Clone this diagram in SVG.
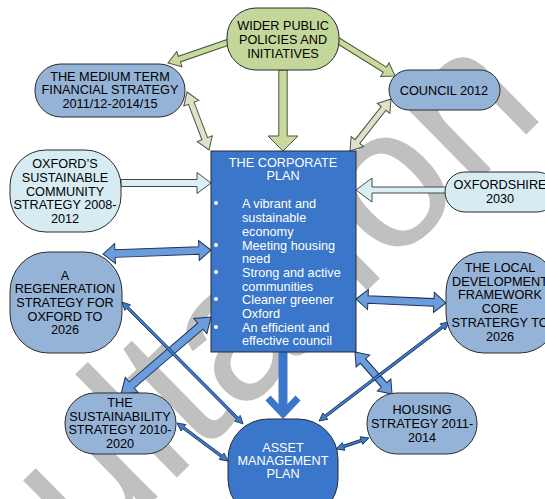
<svg xmlns="http://www.w3.org/2000/svg" width="545" height="499" viewBox="0 0 545 499">
<style>
text{font-family:"Liberation Sans",Arial,sans-serif;font-size:12.7px;fill:#000;text-anchor:middle}
.w{fill:#fff}
.l{text-anchor:start}
.node{stroke:#2b2b2b;stroke-width:1}
.bg{fill:#95b3d7}
.cy{fill:#d6ebf2}
.gr{fill:#c4d79b}
.bl{fill:#3a76c9}
.ag{fill:#c9da9f;stroke:#4d5a3a;stroke-width:1}
.ap{fill:#dce3c9;stroke:#4d5444;stroke-width:1}
.ac{fill:#daeef3;stroke:#3f4a4e;stroke-width:1}
.ab{fill:#6b9cdb;stroke:#1e3558;stroke-width:1}
.at{fill:#3e7bcc;stroke:#132c4e;stroke-width:0.8}
.wm{font-size:200px;fill:#c0c0c0;text-anchor:end}
</style>
<rect width="545" height="499" fill="#fff"/>
<text class="wm" transform="translate(548,113) rotate(-44.5)">Consultation</text>
<g id="connectors">
<polygon class="ag" transform="translate(229,42) rotate(161)" points="0,-3 52.5,-3 52.5,-8 64.5,0 52.5,8 52.5,3 0,3"/>
<polygon class="ag" transform="translate(337,40) rotate(31.8)" points="0,-3 56.3,-3 56.3,-8 68.3,0 56.3,8 56.3,3 0,3"/>
<polygon class="ag" transform="translate(283,70) rotate(90)" points="0,-4.2 66,-4.2 66,-15 81,0 66,15 66,4.2 0,4.2"/>
<polygon class="ap" transform="translate(187,92) rotate(69.2)" points="0,0 12,-8 12,-3 50,-3 50,-8 62,0 50,8 50,3 12,3 12,8"/>
<polygon class="ap" transform="translate(391,99) rotate(128.3)" points="0,0 12,-8 12,-3 54.2,-3 54.2,-8 66.2,0 54.2,8 54.2,3 12,3 12,8"/>
<polygon class="ac" transform="translate(121,183)" points="0,-3.5 76,-3.5 76,-10.5 90,0 76,10.5 76,3.5 0,3.5"/>
<polygon class="ac" transform="translate(446,190) rotate(180)" points="0,-3 74,-3 74,-12 90,0 74,12 74,3 0,3"/>
<polygon class="ab" transform="translate(103,254) rotate(-2.1)" points="0,0 12,-10 12,-3.8 96,-3.8 96,-10 108,0 96,10 96,3.8 12,3.8 12,10"/>
<polygon class="ab" transform="translate(356,299) rotate(2.5)" points="0,0 12,-10 12,-3.8 78,-3.8 78,-10 90,0 78,10 78,3.8 12,3.8 12,10"/>
<polygon class="ab" transform="translate(211,317) rotate(139.4)" points="0,0 14,-10 14,-4 104.4,-4 104.4,-10 118.4,0 104.4,10 104.4,4 14,4 14,10"/>
<polygon class="ab" transform="translate(355,352) rotate(48.6)" points="0,0 12,-9 12,-3.5 44,-3.5 44,-9 56,0 44,9 44,3.5 12,3.5 12,9"/>
<polygon class="at" transform="translate(122,302) rotate(45.2)" points="0,0 8,-4 8,-1.3 163.8,-1.3 163.8,-4 171.8,0 163.8,4 163.8,1.3 8,1.3 8,4"/>
<polygon class="at" transform="translate(177,423) rotate(36.7)" points="0,0 8,-4 8,-1.3 55.6,-1.3 55.6,-4 63.6,0 55.6,4 55.6,1.3 8,1.3 8,4"/>
<polygon class="at" transform="translate(449,322) rotate(142.7)" points="0,0 8,-4 8,-1.3 155.4,-1.3 155.4,-4 163.4,0 155.4,4 155.4,1.3 8,1.3 8,4"/>
<polygon class="at" transform="translate(369,438) rotate(161.6)" points="0,0 8,-4 8,-1.3 26.8,-1.3 26.8,-4 34.8,0 26.8,4 26.8,1.3 8,1.3 8,4"/>
<line x1="283" y1="352" x2="283" y2="413" stroke="#3a76c9" stroke-width="9"/>
<polyline points="268,398 283,414 298,398" fill="none" stroke="#3a76c9" stroke-width="7"/>
</g>
<g id="wider">
<rect class="node gr" x="227" y="8" width="112" height="62" rx="29"/>
<text x="283" y="29.5">WIDER PUBLIC</text>
<text x="283" y="43.5">POLICIES AND</text>
<text x="283" y="58">INITIATIVES</text>
</g>
<g id="medium">
<rect class="node bg" x="35" y="64" width="150" height="53" rx="26"/>
<text x="110" y="80.5">THE MEDIUM TERM</text>
<text x="110" y="94">FINANCIAL STRATEGY</text>
<text x="110" y="108">2011/12-2014/15</text>
</g>
<g id="council">
<rect class="node bg" x="389" y="70" width="111" height="40" rx="20"/>
<text x="444" y="94.5">COUNCIL 2012</text>
</g>
<g id="oxford-scs">
<rect class="node cy" x="10" y="150" width="111" height="82" rx="36"/>
<text x="65" y="167.5">OXFORD’S</text>
<text x="65" y="181.5">SUSTAINABLE</text>
<text x="65" y="195.5">COMMUNITY</text>
<text x="65" y="209">STRATEGY 2008-</text>
<text x="65" y="223">2012</text>
</g>
<g id="oxfordshire">
<rect class="node cy" x="445" y="172" width="112" height="40" rx="20"/>
<text x="500" y="188.5">OXFORDSHIRE</text>
<text x="500" y="202.5">2030</text>
</g>
<g id="corporate">
<rect class="node bl" x="211" y="151" width="145" height="201"/>
<text class="w" x="283" y="166.5">THE CORPORATE</text>
<text class="w" x="283" y="180">PLAN</text>
<g fill="#fff"><circle cx="216" cy="203" r="2"/><circle cx="216" cy="245" r="2"/><circle cx="216" cy="272" r="2"/><circle cx="216" cy="299" r="2"/><circle cx="216" cy="327" r="2"/></g>
<text class="w l" x="242" y="207.5">A vibrant and</text>
<text class="w l" x="242" y="221.5">sustainable</text>
<text class="w l" x="242" y="235.5">economy</text>
<text class="w l" x="242" y="249.5">Meeting housing</text>
<text class="w l" x="242" y="262.5">need</text>
<text class="w l" x="242" y="276.5">Strong and active</text>
<text class="w l" x="242" y="290.5">communities</text>
<text class="w l" x="242" y="303.5">Cleaner greener</text>
<text class="w l" x="242" y="317.5">Oxford</text>
<text class="w l" x="242" y="331.5">An efficient and</text>
<text class="w l" x="242" y="345">effective council</text>
</g>
<g id="regeneration">
<rect class="node bg" x="10" y="252" width="112" height="101" rx="38" ry="40"/>
<text x="65" y="279.5">A</text>
<text x="65" y="293">REGENERATION</text>
<text x="65" y="306.5">STRATEGY FOR</text>
<text x="65" y="320.5">OXFORD TO</text>
<text x="65" y="334">2026</text>
</g>
<g id="local-development">
<rect class="node bg" x="446" y="252" width="112" height="101" rx="38" ry="40"/>
<text x="500" y="271.5">THE LOCAL</text>
<text x="500" y="285.5">DEVELOPMENT</text>
<text x="500" y="299">FRAMEWORK</text>
<text x="500" y="313">CORE</text>
<text x="500" y="327">STRATERGY TO</text>
<text x="500" y="341">2026</text>
</g>
<g id="sustainability">
<rect class="node bg" x="65" y="393" width="111" height="61" rx="30"/>
<text x="120" y="406.5">THE</text>
<text x="120" y="420.5">SUSTAINABILITY</text>
<text x="120" y="434">STRATEGY 2010-</text>
<text x="120" y="447.5">2020</text>
</g>
<g id="housing">
<rect class="node bg" x="367" y="393" width="110" height="61" rx="30"/>
<text x="422" y="413.5">HOUSING</text>
<text x="422" y="427.5">STRATEGY 2011-</text>
<text x="422" y="441.5">2014</text>
</g>
<g id="asset">
<rect class="node bl" x="228" y="419" width="110" height="100" rx="40"/>
<text class="w" x="283" y="451.5">ASSET</text>
<text class="w" x="283" y="464.5">MANAGEMENT</text>
<text class="w" x="283" y="477.5">PLAN</text>
</g>
</svg>
